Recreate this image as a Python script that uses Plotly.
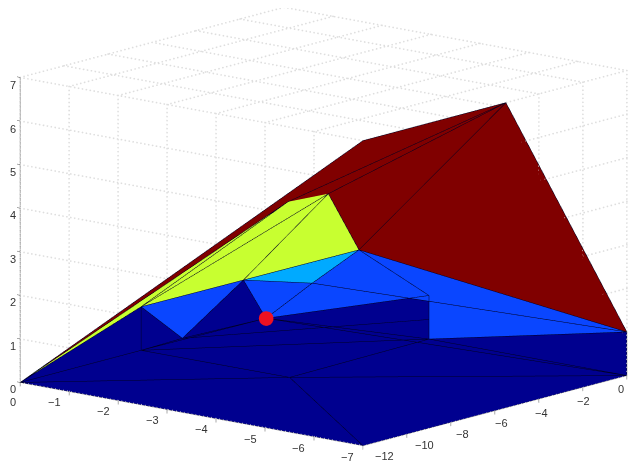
import numpy as np
import plotly.graph_objects as go

# surface vertices
names = ["A","B","C","D","E","F","G","H","I","J","K","L","M","N","O","P","Q","R","S"]
vx = [0,-7,-7,-7,-7,-7,-4,-3.06,-2.94,-2,0,-1.93,-2.03,-2.97,-2.96,-2.96,0,-3.02,-2.96]
vy = [-12,-12,0,0,-5.5,-12,-5.5,-4.8,-6.37,-6.3,-6.5,-8.92,-5.34,-5.33,0,0,-6.5,-6.47,0]
vz = [0,0,0,1,7,7,3,4,4,2,1,1,1,2,1,0,0,0,0.45]

dark = "ABR BCR CPR PQR QAR AQK QLK QLM QMP MOP JLM PCD"
blue = "KJL JNM NGD NDO NOM OPD"
cyan = "JNG"
yellow = "AKI KJH KHI JGH"
brown = "AFI IFE IHE HGE GDE"

edges = ("AQ QK KA KL KJ JL LM JM JN NG GJ JH HG KH KI AI AF FE ED DG GE HE IE GO ND NM "
         "MO OP PD DC CP PQ QR RA RB RC RP QL LS MP MC QM AB BC").split()

x_ticks = [0,-1,-2,-3,-4,-5,-6,-7]
y_ticks = [0,-2,-4,-6,-8,-10,-12]
z_ticks = [0,1,2,3,4,5,6,7]

colors = {"dark":"#00008f","blue":"#0a46ff","cyan":"#00aaff","yellow":"#c8ff30","brown":"#800000"}
marker_x, marker_y, marker_z = [-2.03], [-5.34], [1.0]

eye_dir = np.array([0.624,0.749,-0.2213])
aspect = np.array([1,0.924,0.701])
# one step along the line of sight, in data units: keeps the screen position, changes only the depth
sight = eye_dir*np.array([7,12,7])/aspect
sight = sight/sight[0]
def near(p,frac=1.0):
    p = np.array(p,float)
    k = min(-p[0]/sight[0], -p[1]/sight[1], p[2]/-sight[2])
    return p+frac*max(k,0)*sight
def far(p,frac=0.9):
    p = np.array(p,float)
    k = min((p[0]+7)/sight[0], (p[1]+12)/sight[1], (7-p[2])/-sight[2])
    return p-frac*max(k,0)*sight

idx = {n:i for i,n in enumerate(names)}
fi,fj,fk,fc = [],[],[],[]
for key,s in [("dark",dark),("blue",blue),("cyan",cyan),("yellow",yellow),("brown",brown)]:
    for t in s.split():
        fi.append(idx[t[0]]); fj.append(idx[t[1]]); fk.append(idx[t[2]]); fc.append(colors[key])

fig = go.Figure()
# dotted grid on the far planes
def dots(a,b,acc):
    n = int(np.hypot((a[0]-b[0])*48.9+(a[1]-b[1])*21.9,(a[0]-b[0])*9+(a[1]-b[1])*5.83+(a[2]-b[2])*43.4)/4)+1
    for s in np.linspace(0,1,n+1):
        acc.append([a[i]+(b[i]-a[i])*s for i in range(3)])
pts = []
for t in x_ticks:
    dots((t,-12,7),(t,0,7),pts); dots((t,-12,0),(t,-12,7),pts)
for t in y_ticks:
    dots((-7,t,7),(0,t,7),pts); dots((-7,t,0),(-7,t,7),pts)
for t in z_ticks:
    dots((0,-12,t),(-7,-12,t),pts); dots((-7,-12,t),(-7,0,t),pts)
pts = np.array(pts)
fig.add_trace(go.Scatter3d(x=pts[:,0],y=pts[:,1],z=pts[:,2],mode="markers",
    marker=dict(color="#dedede",size=1,line=dict(width=0)),hoverinfo="skip"))

m = np.array([far((vx[i],vy[i],vz[i])) for i in range(len(names))])
fig.add_trace(go.Mesh3d(x=m[:,0],y=m[:,1],z=m[:,2],i=fi,j=fj,k=fk,facecolor=fc,flatshading=True,
    lighting=dict(ambient=1,diffuse=0,specular=0,fresnel=0,roughness=1),hoverinfo="skip"))

lx,ly,lz = [],[],[]
for e in edges:
    for n in e:
        p = near((vx[idx[n]],vy[idx[n]],vz[idx[n]]),0.8)
        lx.append(p[0]); ly.append(p[1]); lz.append(p[2])
    lx.append(None); ly.append(None); lz.append(None)
fig.add_trace(go.Scatter3d(x=lx,y=ly,z=lz,mode="lines",line=dict(color="#000020",width=1),hoverinfo="skip"))
mk = near((marker_x[0],marker_y[0],marker_z[0]),1.0)
fig.add_trace(go.Scatter3d(x=[mk[0]],y=[mk[1]],z=[mk[2]],mode="markers",
    marker=dict(color="#ee1122",size=8.5,line=dict(width=0)),hoverinfo="skip"))

def lab(t):
    return "\u2212%d"%abs(t) if t<0 else str(t)
font = dict(family="Liberation Sans",size=11,color="#333333")
ann = []
for t in x_ticks:
    if t != 0:
        ann.append(dict(x=t,y=-12,z=0,text=lab(t),showarrow=False,xshift=-15,yshift=-11,font=font))
y_dx = [-6,1,3,7,12,18,22]
y_dy = [-14,-14,-14,-12,-12,-11,-10]
for t,dx,dy in zip(y_ticks,y_dx,y_dy):
    ann.append(dict(x=-7,y=t,z=0,text=lab(t),showarrow=False,xshift=dx,yshift=dy,font=font))

# labels at the far left edge are placed on the page: plotly drops scene annotations this close to the edge
paper_ann = [dict(xref="paper",yref="paper",x=5/640,y=1-(381-43.4*t)/465,text=lab(t),showarrow=False,font=font,
                  xanchor="center",yanchor="middle") for t in z_ticks]
paper_ann.append(dict(xref="paper",yref="paper",x=5/640,y=1-394/465,text=lab(x_ticks[0]),showarrow=False,font=font,
                      xanchor="center",yanchor="middle"))

def axis(ticks,rng):
    return dict(range=rng,tickmode="array",tickvals=ticks,showticklabels=False,
                showgrid=False,zeroline=False,showbackground=False,showspikes=False,showline=True,
                linecolor="#555555",linewidth=1,ticks="outside",ticklen=4,tickcolor="#555555",title=dict(text=""))
r = 1.9
zoom = 1.97
c = dict(x=-0.0203,y=0.0067,z=-0.0345)
fig.update_layout(width=640,height=465,margin=dict(l=0,r=0,t=0,b=0),showlegend=False,paper_bgcolor="white",
    annotations=paper_ann,
    scene=dict(domain=dict(x=[0,1],y=[0.026,1]),annotations=ann,
        xaxis=axis(x_ticks,[-7,0]),yaxis=axis(y_ticks,[-12,0]),zaxis=axis(z_ticks,[0,7]),
        aspectmode="manual",aspectratio=dict(x=zoom,y=0.924*zoom,z=0.701*zoom),
        camera=dict(projection=dict(type="orthographic"),up=dict(x=0,y=0,z=1),center=c,
                    eye=dict(x=0.624*r+c["x"],y=0.749*r+c["y"],z=-0.2213*r+c["z"]))))
fig.write_html("out.html")
